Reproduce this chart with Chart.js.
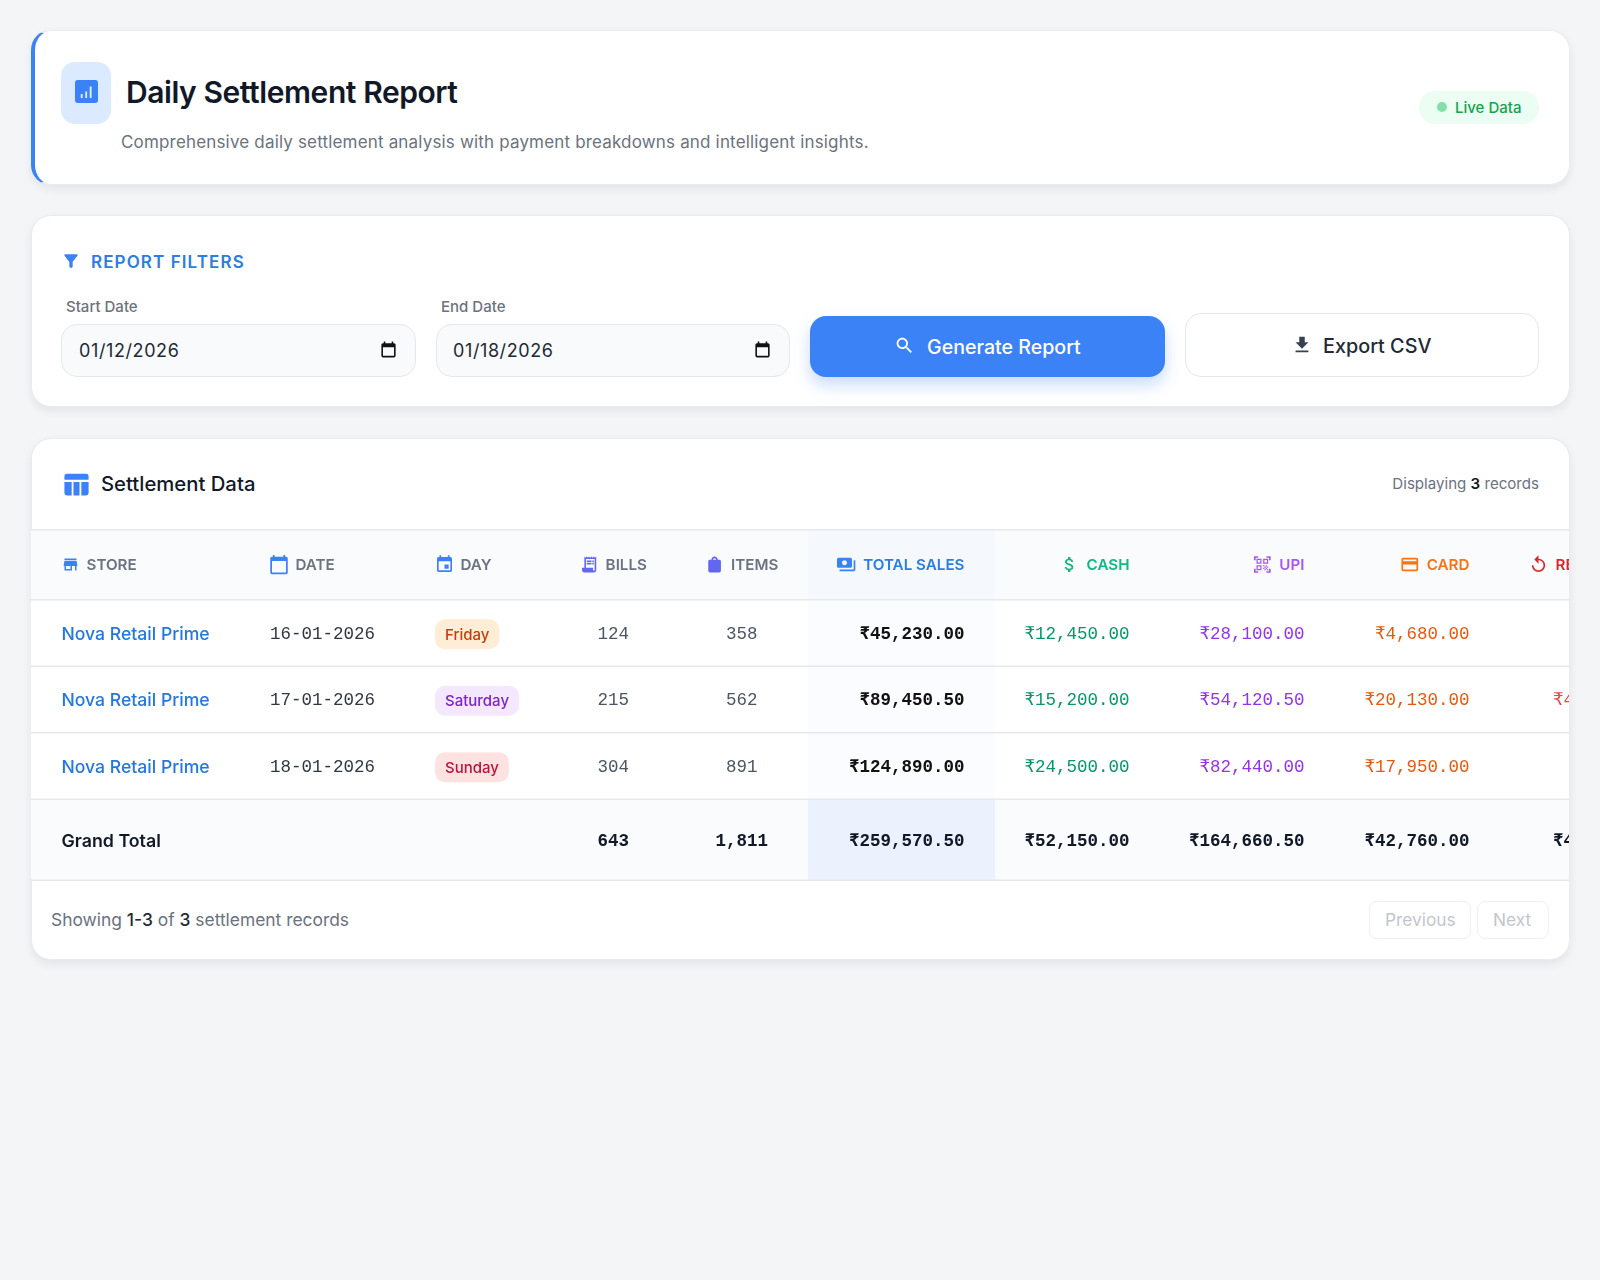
<!DOCTYPE html>
<html>
<head>
<meta charset="utf-8">
<title>Daily Settlement Report</title>
<script src="https://cdn.jsdelivr.net/npm/chart.js@4/dist/chart.umd.js"></script>
<style>
  * { box-sizing: border-box; }
  html, body { margin: 0; height: 1280px; background: #f3f5f7; font-family: Inter, sans-serif; overflow: hidden; }
  .card { position: absolute; left: 30.5px; width: 1539px; background: #fff; border: 1px solid #e9ebef; border-radius: 20px; box-shadow: 0 4px 10px rgba(17, 24, 39, .07); }
  .t { position: absolute; white-space: nowrap; line-height: 1; transform: translateY(-50%); }
  .box { position: absolute; }
  .ic { position: absolute; }
  b { font-weight: 500; color: #1f2937; }
  #tableWrap { position: absolute; left: 31px; top: 529px; width: 1538px; height: 352px; overflow: hidden; }
</style>
</head>
<body>
  <!-- header card -->
  <div class="card" style="top:30px;height:155px;border-left:4px solid #3b82f6"></div>
  <div class="box" style="left:61px;top:62px;width:50px;height:62px;background:#dbeafe;border-radius:14px"></div>
  <svg class="ic" style="left:75px;top:80px" width="23" height="23" viewBox="3 3 18 18" fill="#3b82f6"><path fill-rule="evenodd" d="M19 3H5c-1.1 0-2 .9-2 2v14c0 1.1.9 2 2 2h14c1.1 0 2-.9 2-2V5c0-1.1-.9-2-2-2zM9 17H7.500v-3H9v3zm3.500 0H11v-5h1.500v5zm3.500 0H14.500V8H16v9z"/></svg>
  <div class="t" style="left:126px;top:92px;font-size:30px;font-weight:600;letter-spacing:-.43px;color:#111827">Daily Settlement Report</div>
  <div class="t" style="left:121px;top:141.500px;font-size:17px;color:#6b7280;letter-spacing:.17px">Comprehensive daily settlement analysis with payment breakdowns and intelligent insights.</div>
  <div class="box" style="left:1419px;top:91px;width:120px;height:33px;background:#ecfdf3;border-radius:17px"></div>
  <div class="box" style="left:1437px;top:102px;width:10px;height:10px;background:#86dfa8;border-radius:50%"></div>
  <div class="t" style="left:1455px;top:107px;font-size:15px;font-weight:500;color:#16a34a">Live Data</div>

  <!-- filters card -->
  <div class="card" style="top:214.500px;height:192.500px"></div>
  <svg class="ic" style="left:61px;top:251px" width="20" height="20" viewBox="0 0 24 24" fill="#3b82f6"><path d="M4.250 5.610C6.270 8.200 10 13 10 13v6c0 .55.45 1 1 1h2c.55 0 1-.45 1-1v-6s3.720-4.800 5.740-7.390C20.250 4.950 19.780 4 18.950 4H5.040c-.83 0-1.300.95-.79 1.610z"/></svg>
  <div class="t" style="left:91px;top:261.500px;font-size:17px;font-weight:600;letter-spacing:1.1px;color:#2b7de0">REPORT FILTERS</div>
  <div class="t" style="left:66px;top:306px;font-size:15px;font-weight:500;color:#6b7280">Start Date</div>
  <div class="t" style="left:441px;top:306px;font-size:15px;font-weight:500;color:#6b7280">End Date</div>
  <div class="box" style="left:61px;top:323.500px;width:355px;height:53px;background:#f9fafb;border:1px solid #e5e7eb;border-radius:16px"></div>
  <div class="box" style="left:436px;top:323.500px;width:354px;height:53px;background:#f9fafb;border:1px solid #e5e7eb;border-radius:16px"></div>
  <div class="t" style="left:79px;top:351px;font-size:18px;letter-spacing:.6px;color:#1f2937">01/12/2026</div>
  <div class="t" style="left:453px;top:351px;font-size:18px;letter-spacing:.6px;color:#1f2937">01/18/2026</div>
  <svg class="ic" style="left:379px;top:340px" width="19" height="19" viewBox="0 0 24 24" fill="#111"><path d="M19 4h-1V2h-2v2H8V2H6v2H5c-1.100 0-2 .9-2 2v14c0 1.100.9 2 2 2h14c1.100 0 2-.9 2-2V6c0-1.100-.9-2-2-2zm0 16H5V9h14v11z"/></svg>
  <svg class="ic" style="left:753px;top:340px" width="19" height="19" viewBox="0 0 24 24" fill="#111"><path d="M19 4h-1V2h-2v2H8V2H6v2H5c-1.100 0-2 .9-2 2v14c0 1.100.9 2 2 2h14c1.100 0 2-.9 2-2V6c0-1.100-.9-2-2-2zm0 16H5V9h14v11z"/></svg>
  <div class="box" style="left:810px;top:316px;width:355px;height:60.500px;background:#3b82f6;border-radius:16px;box-shadow:0 8px 16px rgba(59,130,246,.28)"></div>
  <svg class="ic" style="left:894px;top:335px" width="21" height="21" viewBox="0 0 24 24" fill="#fff"><path d="M15.500 14h-.79l-.28-.27C15.410 12.590 16 11.110 16 9.500 16 5.910 13.090 3 9.500 3S3 5.910 3 9.500 5.910 16 9.500 16c1.610 0 3.090-.59 4.230-1.570l.27.28v.79l5 4.990L20.490 19l-4.990-5zm-6 0C7.010 14 5 11.990 5 9.500S7.010 5 9.500 5 14 7.010 14 9.500 11.990 14 9.500 14z"/></svg>
  <div class="t" style="left:927px;top:348px;font-size:19.600px;font-weight:500;color:#fff">Generate Report</div>
  <div class="box" style="left:1185px;top:313px;width:354px;height:63.500px;background:#fff;border:1px solid #e5e7eb;border-radius:16px"></div>
  <svg class="ic" style="left:1291px;top:334px" width="22" height="22" viewBox="0 0 24 24" fill="#374151"><path d="M19 9h-4V3H9v6H5l7 7 7-7zM5 18v2h14v-2H5z"/></svg>
  <div class="t" style="left:1323px;top:347px;font-size:19.800px;font-weight:500;color:#1f2937">Export CSV</div>

  <!-- table card -->
  <div class="card" style="top:438px;height:521.500px"></div>
  <svg class="ic" style="left:62px;top:470px" width="29" height="29" viewBox="0 0 24 24" fill="#3b82f6"><path d="M4 3h16a2 2 0 0 1 2 2v3H2V5a2 2 0 0 1 2-2z M2 10h6v11H4a2 2 0 0 1-2-2z M9.500 10h5v11h-5z M16 10h6v9a2 2 0 0 1-2 2h-4z"/></svg>
  <div class="t" style="left:101px;top:484px;font-size:20.300px;font-weight:500;color:#111827">Settlement Data</div>
  <div class="t" style="right:61px;top:484px;font-size:15.100px;color:#6b7280">Displaying <b style="color:#111827;font-weight:600">3</b> records</div>
  <div id="tableWrap"><canvas id="settlementTable" width="1647" height="352" style="width:1647px;height:352px"></canvas></div>
  <div class="t" style="left:51px;top:920px;font-size:17.400px;color:#6b7280">Showing <b>1-3</b> of <b>3</b> settlement records</div>
  <div class="box" style="left:1369px;top:901px;width:102px;height:38px;background:#fff;border:1px solid #eef0f3;border-radius:8px"></div>
  <div class="t" style="left:1385px;top:920px;font-size:17.300px;color:#c2c6cc">Previous</div>
  <div class="box" style="left:1477px;top:901px;width:72px;height:38px;background:#fff;border:1px solid #eef0f3;border-radius:8px"></div>
  <div class="t" style="left:1493px;top:920px;font-size:17.300px;color:#c2c6cc">Next</div>

<script>
const columns = ['STORE', 'DATE', 'DAY', 'BILLS', 'ITEMS', 'TOTAL SALES', 'CASH', 'UPI', 'CARD', 'REFUND'];
const dates = ['16-01-2026', '17-01-2026', '18-01-2026'];
const stores = ['Nova Retail Prime', 'Nova Retail Prime', 'Nova Retail Prime', 'Grand Total'];
const days = ['Friday', 'Saturday', 'Sunday'];
// last entry of each list is the grand total row
const bills = [124, 215, 304, 643];
const items = [358, 562, 891, 1811];
const totalSales = [45230, 89450.5, 124890, 259570.5];
const cash = [12450, 15200, 24500, 52150];
const upi = [28100, 54120.5, 82440, 164660.5];
const card = [4680, 20130, 17950, 42760];
const refund = [0, 4200, 0, 4200]; // only the first digit is visible, table is cut off

const rows = ['HEAD', ...dates, 'Grand Total'];
const bodyRows = rows.slice(1);

// table layout, band sizes for the scales below
const columnWidths = [209, 165, 146, 124.5, 132.5, 187, 165, 175, 165, 178];
const rowHeights = [71, 66.5, 66.5, 66.5, 81.5];
const cellPad = 30.5;

const columnStyle = {
  STORE: { align: 'left', icon: 'store', iconColor: '#3b82f6', headColor: '#6b7280', size: 18 },
  DATE: { align: 'left', icon: 'calendar', iconColor: '#3b82f6', headColor: '#6b7280', size: 21, shift: -2, gap: 6 },
  DAY: { align: 'left', icon: 'event', iconColor: '#3b82f6', headColor: '#6b7280', size: 20, shift: -1, gap: 6 },
  BILLS: { align: 'center', icon: 'receipt', iconColor: '#6366f1', headColor: '#6b7280', size: 19 },
  ITEMS: { align: 'center', icon: 'bag', iconColor: '#6366f1', headColor: '#6b7280', size: 19 },
  'TOTAL SALES': { align: 'right', icon: 'payments', iconColor: '#3b82f6', headColor: '#2b7de0', size: 20 },
  CASH: { align: 'right', icon: 'money', iconColor: '#10b981', headColor: '#10b981', size: 20, cell: '#059669' },
  UPI: { align: 'right', icon: 'qr', iconColor: '#a855f7', headColor: '#a855f7', size: 20, cell: '#9333ea' },
  CARD: { align: 'right', icon: 'card', iconColor: '#f97316', headColor: '#f97316', size: 20, cell: '#ea580c' },
  // header text is left of the column end here, the cells stay right aligned
  REFUND: { align: 'right', headAlign: 'left', icon: 'replay', iconColor: '#dc2626', headColor: '#dc2626', size: 20, shift: -2, cell: '#ef4444' }
};

const dayBadge = {
  Friday: { bg: '#ffedd5', fg: '#c2410c' },
  Saturday: { bg: '#f3e8ff', fg: '#7e22ce' },
  Sunday: { bg: '#fee2e2', fg: '#be123c' }
};

const iconPaths = {
  store: 'M20 4H4v2h16V4zm1 10v-2l-1-5H4l-1 5v2h1v6h10v-6h4v6h2v-6h1zm-9 4H6v-4h6v4z',
  calendar: 'M20 3h-1V1h-2v2H7V1H5v2H4c-1.1 0-2 .9-2 2v16c0 1.1.9 2 2 2h16c1.1 0 2-.9 2-2V5c0-1.1-.9-2-2-2zm0 18H4V8h16v13z',
  event: 'M17 12h-5v5h5v-5zM16 1v2H8V1H6v2H5c-1.11 0-1.99.9-1.99 2L3 19c0 1.1.89 2 2 2h14c1.1 0 2-.9 2-2V5c0-1.1-.9-2-2-2h-1V1h-2zm3 18H5V8h14v11z',
  receipt: 'M19.5 3.5L18 2l-1.5 1.5L15 2l-1.5 1.5L12 2l-1.5 1.5L9 2 7.5 3.5 6 2v14H3v3c0 1.66 1.34 3 3 3h12c1.66 0 3-1.34 3-3V2l-1.5 1.5zM19 19c0 .55-.45 1-1 1s-1-.45-1-1v-3H8V5h11v14zM9 7h6v2H9zm7 0h2v2h-2zM9 10h6v2H9zm7 0h2v2h-2z',
  bag: 'M18 6h-2c0-2.21-1.79-4-4-4S8 3.79 8 6H6c-1.1 0-2 .9-2 2v12c0 1.1.9 2 2 2h12c1.1 0 2-.9 2-2V8c0-1.1-.9-2-2-2zm-8 0c0-1.1.9-2 2-2s2 .9 2 2h-4z',
  payments: 'M19 14V6c0-1.1-.9-2-2-2H3c-1.1 0-2 .9-2 2v8c0 1.1.9 2 2 2h14c1.1 0 2-.9 2-2zm-9-1c-1.66 0-3-1.34-3-3s1.34-3 3-3 3 1.34 3 3-1.34 3-3 3zm13-6v11c0 1.1-.9 2-2 2H4v-2h17V7h2z',
  money: 'M11.8 10.9c-2.27-.59-3-1.2-3-2.15 0-1.09 1.01-1.85 2.7-1.85 1.78 0 2.44.85 2.5 2.1h2.21c-.07-1.72-1.12-3.3-3.21-3.81V3h-3v2.16c-1.94.42-3.5 1.68-3.5 3.61 0 2.31 1.91 3.46 4.7 4.13 2.5.6 3 1.48 3 2.41 0 .69-.49 1.79-2.7 1.79-2.06 0-2.87-.92-2.98-2.1h-2.2c.12 2.19 1.76 3.42 3.68 3.83V21h3v-2.15c1.95-.37 3.5-1.5 3.5-3.55 0-2.84-2.43-3.81-4.7-4.4z',
  qr: 'M9.5 6.5v3h-3v-3h3M11 5H5v6h6V5zm-1.5 9.5v3h-3v-3h3M11 13H5v6h6v-6zm6.5-6.5v3h-3v-3h3M19 5h-6v6h6V5zm-6 8h1.5v1.5H13V13zm1.5 1.5H16V16h-1.5v-1.5zM16 13h1.5v1.5H16V13zm-3 3h1.5v1.5H13V16zm1.5 1.5H16V19h-1.5v-1.5zM16 16h1.5v1.5H16V16zm1.5-1.5H19V16h-1.5v-1.5zm0 3H19V19h-1.5v-1.5zM22 7h-2V4h-3V2h5v5zm0 15v-5h-2v3h-3v2h5zM2 22h5v-2H4v-3H2v5zM2 2v5h2V4h3V2H2z',
  card: 'M20 4H4c-1.11 0-1.99.89-1.99 2L2 18c0 1.11.89 2 2 2h16c1.11 0 2-.89 2-2V6c0-1.11-.89-2-2-2zm0 14H4v-6h16v6zm0-10H4V6h16v2z',
  replay: 'M12 5V1L7 6l5 5V7c3.31 0 6 2.69 6 6s-2.69 6-6 6-6-2.69-6-6H4c0 4.42 3.58 8 8 8s8-3.58 8-8-3.58-8-8-8z'
};

const plain = v => v.toLocaleString('en-US');
const rupee = v => '₹' + v.toLocaleString('en-US', { minimumFractionDigits: 2, maximumFractionDigits: 2 });

// category scale whose bands have their own sizes, like table columns and rows
class BandScale extends Chart.CategoryScale {
  band(index) {
    const sizes = this.options.bands;
    const total = sizes.reduce((a, b) => a + b, 0);
    const horizontal = this.isHorizontal();
    const start = horizontal ? this.left : this.top;
    const length = horizontal ? this.width : this.height;
    const before = sizes.slice(0, index).reduce((a, b) => a + b, 0);
    return { start: start + before / total * length, end: start + (before + sizes[index]) / total * length };
  }
  getPixelForValue(value) {
    const index = typeof value === 'number' ? value : this.parse(value);
    const b = this.band(index);
    return (b.start + b.end) / 2;
  }
}
BandScale.id = 'band';
BandScale.defaults = Chart.CategoryScale.defaults;
Chart.register(BandScale);

function columnData(column, values, format) {
  return {
    label: column,
    format,
    pointRadius: 0,
    data: values.map((v, i) => ({ x: column, y: bodyRows[i], v }))
  };
}

const FONT_UI = 'Inter, sans-serif';
const FONT_MONO = '"Liberation Mono", monospace';

function roundBox(ctx, x, y, w, h, r, fill) {
  ctx.beginPath();
  ctx.roundRect(x, y, w, h, r);
  ctx.fillStyle = fill;
  ctx.fill();
}

const tableCells = {
  id: 'tableCells',
  beforeDatasetsDraw(chart) {
    const { ctx, scales: { x, y } } = chart;
    const W = chart.width;
    const head = y.band(0);
    const total = y.band(rows.length - 1);
    const sales = x.band(columns.indexOf('TOTAL SALES'));
    ctx.save();
    ctx.fillStyle = '#fff';
    ctx.fillRect(0, 0, W, chart.height);
    ctx.fillStyle = '#fafbfd';
    ctx.fillRect(0, head.start, W, head.end - head.start);
    ctx.fillRect(0, total.start, W, total.end - total.start);
    // total sales column highlight
    ctx.fillStyle = '#f5f8fd';
    ctx.fillRect(sales.start, head.start, sales.end - sales.start, head.end - head.start);
    ctx.fillStyle = '#fafcff';
    ctx.fillRect(sales.start, head.end, sales.end - sales.start, total.start - head.end);
    ctx.fillStyle = '#ebf2fd';
    ctx.fillRect(sales.start, total.start, sales.end - sales.start, total.end - total.start);
    // row lines
    ctx.fillStyle = '#e6e8ec';
    rows.forEach((r, i) => {
      const b = y.band(i);
      ctx.fillRect(0, b.start - (i ? 1 : 0), W, 1.5);
      if (i === rows.length - 1) ctx.fillRect(0, b.end - 1.5, W, 1.5);
    });
    ctx.restore();
  },
  afterDatasetsDraw(chart) {
    const { ctx, scales: { x, y } } = chart;
    ctx.save();
    ctx.textBaseline = 'middle';
    // header row
    const headY = y.getPixelForValue(0);
    columns.forEach((name, i) => {
      const st = columnStyle[name];
      const b = x.band(i);
      ctx.font = '600 15.2px ' + FONT_UI;
      const tw = ctx.measureText(name).width;
      const gap = st.gap || 7;
      const full = st.size + gap + tw;
      const headAlign = st.headAlign || st.align;
      let left = b.start + cellPad;
      if (headAlign === 'center') left = (b.start + b.end - full) / 2;
      if (headAlign === 'right') left = b.end - cellPad - full;
      left += st.shift || 0;
      ctx.save();
      ctx.translate(left, headY - st.size / 2);
      ctx.scale(st.size / 24, st.size / 24);
      ctx.fillStyle = st.iconColor;
      ctx.fill(new Path2D(iconPaths[st.icon]), 'evenodd');
      ctx.restore();
      ctx.fillStyle = st.headColor;
      ctx.textAlign = 'left';
      ctx.fillText(name, left + st.size + gap, headY + 1);
    });
    // body cells, placed on the points the scales computed
    chart.data.datasets.forEach((ds, di) => {
      chart.getDatasetMeta(di).data.forEach((pt, i) => {
        const raw = ds.data[i];
        if (raw.v === null || raw.v === undefined) return;
        const isTotal = raw.y === 'Grand Total';
        const st = columnStyle[raw.x];
        const b = x.band(columns.indexOf(raw.x));
        const text = ds.format ? ds.format(raw.v) : String(raw.v);
        if (raw.x === 'STORE') {
          ctx.font = (isTotal ? '600 ' : '500 ') + (isTotal ? '17.8px ' : '17.6px ') + FONT_UI;
          ctx.fillStyle = isTotal ? '#111827' : '#2378e0';
          ctx.textAlign = 'left';
          ctx.fillText(text, b.start + cellPad, pt.y + 1);
        } else if (raw.x === 'DAY') {
          const style = dayBadge[text];
          ctx.font = '500 15px ' + FONT_UI;
          const w = ctx.measureText(text).width + 20;
          roundBox(ctx, b.start + cellPad - 0.5, pt.y - 14, w, 30, 10, style.bg);
          ctx.fillStyle = style.fg;
          ctx.textAlign = 'left';
          ctx.fillText(text, b.start + cellPad + 9.5, pt.y + 2);
        } else {
          const strong = isTotal || raw.x === 'TOTAL SALES';
          ctx.font = (strong ? 'bold ' : '') + '17.5px ' + FONT_MONO;
          ctx.fillStyle = isTotal ? '#111827' : raw.x === 'TOTAL SALES' ? '#111111' : (st.cell || (raw.x === 'DATE' ? '#2f3742' : '#4b5563'));
          if (st.align === 'right') {
            ctx.textAlign = 'right';
            ctx.fillText(text, b.end - cellPad, pt.y + 1);
          } else if (st.align === 'center') {
            ctx.textAlign = 'center';
            ctx.fillText(text, pt.x, pt.y + 1);
          } else {
            ctx.textAlign = 'left';
            ctx.fillText(text, b.start + cellPad - 0.5, pt.y + 1);
          }
        }
      });
    });
    ctx.restore();
  }
};

new Chart(document.getElementById('settlementTable'), {
  type: 'scatter',
  data: {
    datasets: [
      columnData('STORE', stores),
      columnData('DATE', dates),
      columnData('DAY', days),
      columnData('BILLS', bills, plain),
      columnData('ITEMS', items, plain),
      columnData('TOTAL SALES', totalSales, rupee),
      columnData('CASH', cash, rupee),
      columnData('UPI', upi, rupee),
      columnData('CARD', card, rupee),
      columnData('REFUND', refund, rupee)
    ]
  },
  options: {
    responsive: false,
    animation: false,
    events: [],
    layout: { padding: 0 },
    plugins: { legend: { display: false }, tooltip: { enabled: false } },
    scales: {
      x: { type: 'band', labels: columns, bands: columnWidths, display: false },
      y: { type: 'band', labels: rows, bands: rowHeights, display: false }
    }
  },
  plugins: [tableCells]
});
</script>
</body>
</html>
